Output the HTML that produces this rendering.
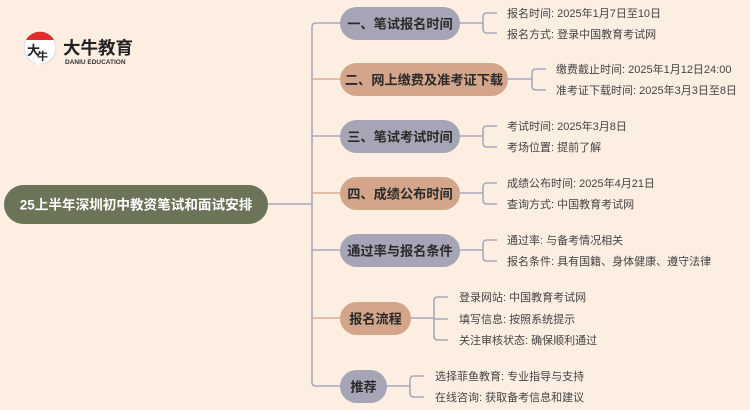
<!DOCTYPE html>
<html><head><meta charset="utf-8"><style>
html,body{margin:0;padding:0;background:#fdeee2;}
svg{display:block}
text{font-family:"Liberation Sans","Noto Sans CJK SC",sans-serif;}
.n{font-size:13.2px;font-weight:bold;fill:#2a2a2a;}
.l{font-size:11px;fill:#444;}
</style></head><body>
<svg width="750" height="410" viewBox="0 0 750 410" xmlns="http://www.w3.org/2000/svg">
<rect width="750" height="410" fill="#fdeee2"/>
<!-- logo -->
<circle cx="40" cy="48" r="16" fill="#fff" stroke="#ddd" stroke-width="1"/>
<path d="M26 40 A16 16 0 0 1 54 40 Z" fill="#e02b2b"/>
<path d="M34 62 L40 68 L38 62 Z" fill="#fff"/>
<text x="27" y="55" style="font-size:13px;font-weight:bold;fill:#222">大</text>
<text x="37" y="60" style="font-size:11px;font-weight:bold;fill:#222">牛</text>
<text x="63" y="54" style="font-size:17.5px;font-weight:bold;fill:#222">大牛教育</text>
<text x="65" y="64" style="font-size:6.5px;font-weight:bold;fill:#333">DANIU EDUCATION</text>
<!-- trunk -->
<g fill="none" stroke-width="1.6">
<path d="M268 204 H312" stroke="#a9a8bb"/>
<path d="M341 23 H316 Q312 23 312 27 V382 Q312 386 316 386 H341" stroke="#a9a8bb"/>
<path d="M312 79 H341 M312 193 H341 M312 318 H341" stroke="#dcae92"/>
<path d="M312 136 H341 M312 250 H341" stroke="#a9a8bb"/>
<path d="M460 23 H483 M497 13 H487 Q483 13 483 17 V29 Q483 33 487 33 H497" stroke="#a9a8bb"/>
<path d="M508 79 H532 M546 69 H536 Q532 69 532 73 V86 Q532 90 536 90 H546" stroke="#a9a8bb"/>
<path d="M460 136 H483 M497 126 H487 Q483 126 483 130 V143 Q483 147 487 147 H497" stroke="#a9a8bb"/>
<path d="M460 193 H483 M497 183 H487 Q483 183 483 187 V200 Q483 204 487 204 H497" stroke="#a9a8bb"/>
<path d="M460 250 H483 M497 240 H487 Q483 240 483 244 V257 Q483 261 487 261 H497" stroke="#a9a8bb"/>
<path d="M411 318 H434 M448 297 H438 Q434 297 434 301 V336 Q434 340 438 340 H448 M434 319 H448" stroke="#a9a8bb"/>
<path d="M387 386 H410 M424 376 H414 Q410 376 410 380 V393 Q410 397 414 397 H424" stroke="#a9a8bb"/>
</g>
<!-- root -->
<rect x="4" y="185" width="264" height="39" rx="19.5" fill="#6b7358"/>
<text x="136" y="209.5" text-anchor="middle" style="font-size:13.6px;font-weight:bold;fill:#fff">25上半年深圳初中教资笔试和面试安排</text>
<!-- nodes -->
<rect x="340" y="7" width="120" height="33" rx="16.5" fill="#a6a5b5"/>
<text class="n" x="400" y="28.5" text-anchor="middle">一、笔试报名时间</text>
<rect x="340" y="63" width="168" height="33" rx="16.5" fill="#d3a58a"/>
<text class="n" x="424" y="84.5" text-anchor="middle">二、网上缴费及准考证下载</text>
<rect x="340" y="120" width="120" height="33" rx="16.5" fill="#a6a5b5"/>
<text class="n" x="400" y="141.5" text-anchor="middle">三、笔试考试时间</text>
<rect x="340" y="177" width="120" height="33" rx="16.5" fill="#d3a58a"/>
<text class="n" x="400" y="198.5" text-anchor="middle">四、成绩公布时间</text>
<rect x="340" y="234" width="120" height="33" rx="16.5" fill="#a6a5b5"/>
<text class="n" x="400" y="255.5" text-anchor="middle">通过率与报名条件</text>
<rect x="340" y="302" width="71" height="33" rx="16.5" fill="#d3a58a"/>
<text class="n" x="375.5" y="323.5" text-anchor="middle">报名流程</text>
<rect x="340" y="370" width="47" height="33" rx="16.5" fill="#a6a5b5"/>
<text class="n" x="363.5" y="391.5" text-anchor="middle">推荐</text>
<!-- leaves -->
<text class="l" x="507" y="17">报名时间: 2025年1月7日至10日</text>
<text class="l" x="507" y="38">报名方式: 登录中国教育考试网</text>
<text class="l" x="556" y="73">缴费截止时间: 2025年1月12日24:00</text>
<text class="l" x="556" y="94">准考证下载时间: 2025年3月3日至8日</text>
<text class="l" x="507" y="130">考试时间: 2025年3月8日</text>
<text class="l" x="507" y="151">考场位置: 提前了解</text>
<text class="l" x="507" y="187">成绩公布时间: 2025年4月21日</text>
<text class="l" x="507" y="208">查询方式: 中国教育考试网</text>
<text class="l" x="507" y="244">通过率: 与备考情况相关</text>
<text class="l" x="507" y="265">报名条件: 具有国籍、身体健康、遵守法律</text>
<text class="l" x="459" y="301">登录网站: 中国教育考试网</text>
<text class="l" x="459" y="323">填写信息: 按照系统提示</text>
<text class="l" x="459" y="344">关注审核状态: 确保顺利通过</text>
<text class="l" x="435" y="380">选择菲鱼教育: 专业指导与支持</text>
<text class="l" x="435" y="401">在线咨询: 获取备考信息和建议</text>
</svg>
</body></html>
